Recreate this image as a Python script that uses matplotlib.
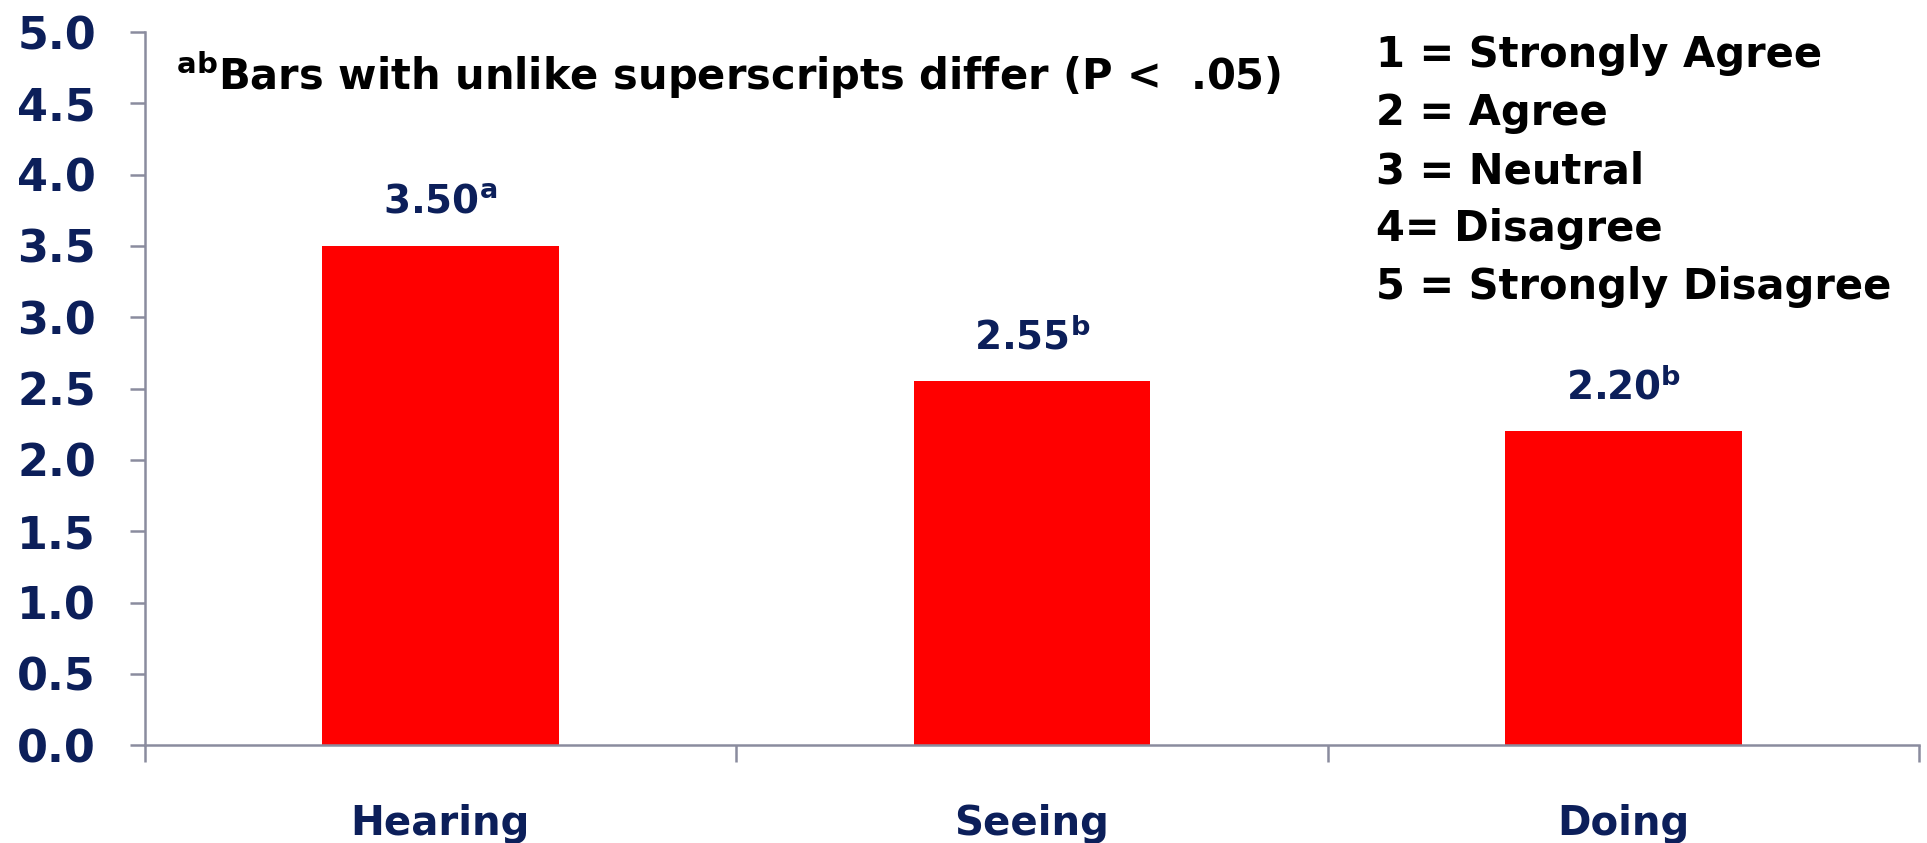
import matplotlib.pyplot as plt

categories = ['Hearing', 'Seeing', 'Doing']
means = [3.50, 2.55, 2.20]
letters = ['a', 'b', 'b']
y_ticks = [0.0, 0.5, 1.0, 1.5, 2.0, 2.5, 3.0, 3.5, 4.0, 4.5, 5.0]
scale_lines = ['1 = Strongly Agree', '2 = Agree', '3 = Neutral',
               '4= Disagree', '5 = Strongly Disagree']

navy = '#0c1f5a'
axis_gray = '#8a8c9e'

plt.rcParams['font.family'] = ['DejaVu Sans']
plt.rcParams['font.weight'] = 'bold'

fig = plt.figure(figsize=(19.27, 8.43), dpi=100)
ax = fig.add_axes([0.075, 0.116, 0.921, 0.846])

x = list(range(len(categories)))
ax.bar(x, means, width=0.4, color='#ff0000')

# mean labels with significance letters
for xi, m, lt in zip(x, means, letters):
    ax.text(xi, m + 0.17, '%.2f$^{\\mathbf{%s}}$' % (m, lt),
            ha='center', va='bottom', fontsize=28, color=navy, fontweight='bold')

ax.set_xlim(-0.5, 2.5)
ax.set_ylim(0, 5.0)
ax.set_yticks(y_ticks)
ax.set_yticklabels(['%.1f' % v for v in y_ticks])
ax.set_xticks([-0.5, 0.5, 1.5, 2.5])
ax.set_xticklabels([])
ax.set_xticks(x, minor=True)
ax.set_xticklabels(categories, minor=True)

ax.tick_params(axis='y', length=11, width=1.8, color=axis_gray, pad=24,
               labelsize=32, labelcolor=navy)
ax.tick_params(axis='x', which='major', length=12, width=1.8, color=axis_gray)
ax.tick_params(axis='x', which='minor', length=0, pad=42,
               labelsize=29, labelcolor=navy)

for s in ['top', 'right']:
    ax.spines[s].set_visible(False)
for s in ['left', 'bottom']:
    ax.spines[s].set_color(axis_gray)
    ax.spines[s].set_linewidth(1.8)

ax.text(-0.447, 4.70, '$^{\\mathbf{ab}}$Bars with unlike superscripts differ (P <  .05)',
        ha='left', va='center', fontsize=30, color='black', fontweight='bold')

for i, line in enumerate(scale_lines):
    fig.text(0.714, 0.935 - i * 0.069, line, ha='left', va='center',
             fontsize=30, color='black', fontweight='bold')

fig.savefig('out.png', dpi=100)
